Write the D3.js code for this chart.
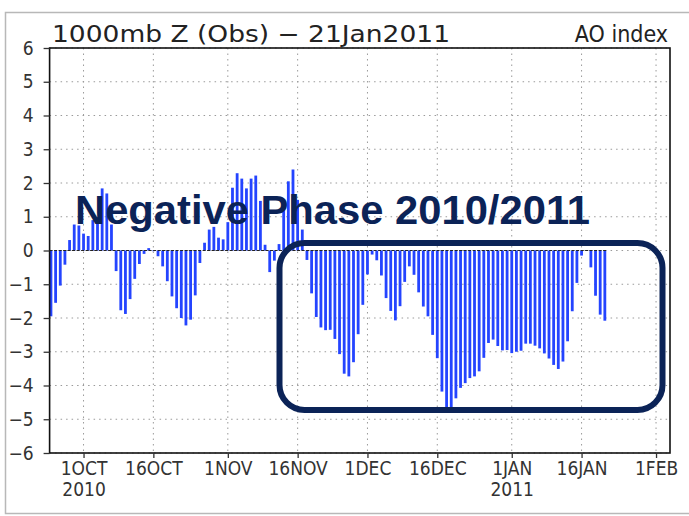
<!DOCTYPE html>
<html>
<head>
<meta charset="utf-8">
<script src="https://cdn.jsdelivr.net/npm/d3@7"></script>
<style>
  body { margin: 0; background: #fff; }
  svg { display: block; }
</style>
</head>
<body>
<div id="chart"></div>
<script>
// Daily AO index, 24 Sep 2010 - 21 Jan 2011
const firstDay = new Date(2010, 8, 24);
const lastDay = new Date(2011, 0, 22);
const aoValues = [
  -1.95, -1.55, -1.04, -0.42, 0.31, 0.77, 0.74,
  0.50, 0.43, 0.90, 0.88, 1.84, 1.69, 0.77, -0.61, -1.77, -1.88, -1.44, -0.84, -0.40, -0.10,
  0.07, -0.02, -0.17, -0.47, -0.91, -1.36, -1.71, -2.00, -2.22, -2.05, -1.33, -0.37, 0.23, 0.62, 0.70,
  0.38, 0.33,
  0.84, 1.86, 2.29, 2.13, 1.84, 2.13, 2.22, 1.47, 0.17, -0.64, -0.30, 0.19, 1.22, 2.05, 2.40,
  1.50, 0.62, -0.28, -1.27, -1.97, -2.28, -2.36, -2.35, -2.62, -3.07, -3.65, -3.73, -3.31, -2.48, -1.61,
  -0.71, -0.12, -0.29, -0.74, -1.41, -1.79, -2.07, -1.65, -0.93, -0.47, -0.72, -1.24, -1.66, -1.95, -2.50,
  -3.19, -4.18, -4.70, -4.68, -4.38, -4.07, -3.93, -3.78, -3.73, -3.58, -3.18, -2.74, -2.64, -2.83, -2.96, -2.95,
  -3.04, -3.00, -2.97, -2.76, -2.76, -2.82, -2.90, -3.05, -3.20, -3.39, -3.51, -3.29, -2.69, -1.80, -0.96,
  -0.15, 0.00, -0.50, -1.34, -1.90, -2.08
];

const tickDates = [
  new Date(2010, 9, 1), new Date(2010, 9, 16), new Date(2010, 10, 1), new Date(2010, 10, 16),
  new Date(2010, 11, 1), new Date(2010, 11, 16), new Date(2011, 0, 1), new Date(2011, 0, 16),
  new Date(2011, 1, 1)
];
const tickLabels = ["1OCT", "16OCT", "1NOV", "16NOV", "1DEC", "16DEC", "1JAN", "16JAN", "1FEB"];
const yearLabels = ["2010", "", "", "", "", "", "2011", "", ""];
const yTicks = [-6, -5, -4, -3, -2, -1, 0, 1, 2, 3, 4, 5, 6];

const days = d3.timeDay.range(firstDay, lastDay);
const data = days.map((d, i) => ({ date: d, value: aoValues[i] }));

const W = 689, H = 516;
const plotLeft = 49.6, plotRight = 670, plotTop = 48, plotBottom = 453;
const font = "'Liberation Sans Narrow', 'DejaVu Sans Condensed', 'Liberation Sans', sans-serif";

const svg = d3.select("#chart").append("svg")
    .attr("width", W)
    .attr("height", H);

svg.append("rect")
    .attr("width", W).attr("height", H)
    .attr("fill", "#fff");

// light outer frame of the slide
svg.append("rect")
    .attr("x", 5.5).attr("y", 12.5)
    .attr("width", 720).attr("height", 501)
    .attr("fill", "none")
    .attr("stroke", "#b8b8b8")
    .attr("stroke-width", 1.5);

// scales
const x = d3.scaleTime()
    .domain([new Date(2010, 8, 23, 17), new Date(2011, 1, 4)])
    .range([plotLeft, plotRight]);

const y = d3.scaleLinear()
    .domain([-6, 6])
    .range([plotBottom, plotTop]);

// grid
svg.append("g")
    .selectAll("line")
    .data(yTicks)
    .join("line")
    .attr("x1", plotLeft).attr("x2", plotRight)
    .attr("y1", d => y(d)).attr("y2", d => y(d))
    .attr("stroke", "#9a9a9a")
    .attr("stroke-width", 1)
    .attr("stroke-dasharray", "1.5,4");

svg.append("g")
    .selectAll("line")
    .data(tickDates)
    .join("line")
    .attr("x1", d => x(d)).attr("x2", d => x(d))
    .attr("y1", plotTop).attr("y2", plotBottom)
    .attr("stroke", "#9a9a9a")
    .attr("stroke-width", 1)
    .attr("stroke-dasharray", "1.5,4");

// bars
svg.append("g")
    .selectAll("rect")
    .data(data)
    .join("rect")
    .attr("x", d => x(d.date) - 1.4)
    .attr("width", 2.8)
    .attr("y", d => y(Math.max(0, d.value)))
    .attr("height", d => Math.abs(y(d.value) - y(0)))
    .attr("fill", "#2444ff");

// zero line
svg.append("line")
    .attr("x1", plotLeft).attr("x2", x(days[days.length - 1]) + 2)
    .attr("y1", y(0)).attr("y2", y(0))
    .attr("stroke", "#222")
    .attr("stroke-width", 1)
    .attr("stroke-dasharray", "3,1.5");

// frame
svg.append("rect")
    .attr("x", plotLeft).attr("y", plotTop)
    .attr("width", plotRight - plotLeft).attr("height", plotBottom - plotTop)
    .attr("fill", "none")
    .attr("stroke", "#111")
    .attr("stroke-width", 1.6);

// y axis
const yAxis = svg.append("g")
    .attr("transform", `translate(${plotLeft},0)`)
    .call(d3.axisLeft(y).tickValues(yTicks).tickSize(6).tickPadding(10));
yAxis.select(".domain").remove();
yAxis.selectAll("line").attr("stroke", "#333").attr("stroke-width", 1.3);
yAxis.selectAll("text")
    .attr("font-family", font)
    .attr("font-size", 19)
    .attr("fill", "#333");

// x axis
const xAxis = svg.append("g")
    .attr("transform", `translate(0,${plotBottom})`)
    .call(d3.axisBottom(x).tickValues(tickDates).tickSize(5).tickPadding(4)
        .tickFormat((d, i) => tickLabels[i]));
xAxis.select(".domain").remove();
xAxis.selectAll("line").attr("stroke", "#333").attr("stroke-width", 1.3);
xAxis.selectAll("text")
    .attr("font-family", font)
    .attr("font-size", 19)
    .attr("fill", "#333");

xAxis.selectAll(".tick")
    .append("text")
    .attr("y", 30)
    .attr("dy", "0.71em")
    .attr("text-anchor", "middle")
    .attr("font-family", font)
    .attr("font-size", 19)
    .attr("fill", "#333")
    .text((d, i) => yearLabels[i]);

// titles
svg.append("text")
    .attr("x", 52).attr("y", 42)
    .attr("font-family", font)
    .attr("font-size", 23)
    .attr("fill", "#222")
    .attr("textLength", 398)
    .attr("lengthAdjust", "spacingAndGlyphs")
    .text("1000mb Z (Obs) \u2212 21Jan2011");

svg.append("text")
    .attr("x", 668).attr("y", 42)
    .attr("text-anchor", "end")
    .attr("font-family", font)
    .attr("font-size", 23)
    .attr("fill", "#222")
    .text("AO index");

// annotation
svg.append("rect")
    .attr("x", 279.5).attr("y", 243)
    .attr("width", 383).attr("height", 167)
    .attr("rx", 25).attr("ry", 25)
    .attr("fill", "none")
    .attr("stroke", "#0b2357")
    .attr("stroke-width", 6);

svg.append("text")
    .attr("x", 75).attr("y", 224)
    .attr("font-family", "'Liberation Sans', Arial, sans-serif")
    .attr("font-weight", "bold")
    .attr("font-size", 41)
    .attr("fill", "#0b2357")
    .attr("textLength", 515)
    .attr("lengthAdjust", "spacingAndGlyphs")
    .text("Negative Phase 2010/2011");
</script>
</body>
</html>
